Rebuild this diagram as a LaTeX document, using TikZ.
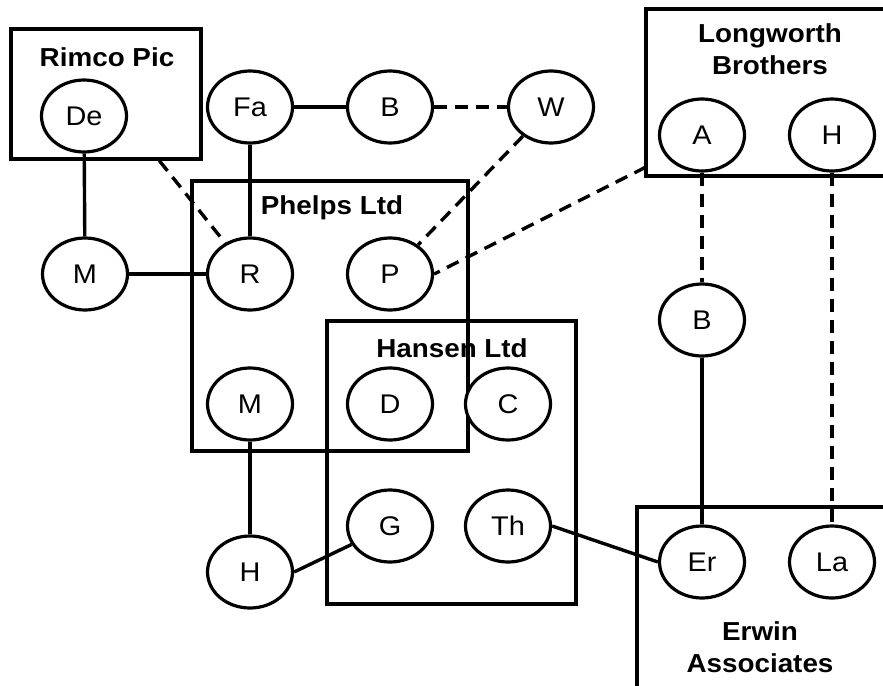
\documentclass[tikz,border=0pt]{standalone}
\usepackage{fontspec}
\setmainfont{Liberation Sans}[FakeStretch=1.07]
\usetikzlibrary{shapes.geometric}
\begin{document}
\begin{tikzpicture}[x=1pt,y=-1pt,
  ent/.style={draw,ellipse,line width=3.2pt,fill=white,minimum width=85pt,minimum height=72pt,inner sep=0pt,font=\fontsize{27}{30}\selectfont},
  orgbox/.style={draw,rectangle,line width=3.4pt,inner sep=0pt},
  orglabel/.style={font=\fontsize{26}{32}\selectfont\bfseries,align=center,inner sep=0pt},
  link/.style={line width=3.4pt},
  dlink/.style={line width=3.4pt,dash pattern=on 13pt off 8pt}]
\useasboundingbox[fill=white] (0,0) rectangle (883,685);
% organisation labels
\node[orglabel] (lrimco) at (107,57) {Rimco Pic};
\node[orglabel] (llw) at (770,49) {Longworth\\Brothers};
\node[orglabel] (lphelps) at (332,208) {Phelps Ltd};
\node[orglabel] (lhansen) at (452,348) {Hansen Ltd};
\node[orglabel] (lerwin) at (760,647) {Erwin\\Associates};
% organisation boxes
\node[orgbox,minimum width=190pt,minimum height=130pt] (rimco) at (106,94) {};
\node[orgbox,minimum width=249pt,minimum height=167pt] (lw) at (770.5,92.5) {};
\node[orgbox,minimum width=276pt,minimum height=270pt] (phelps) at (330,316) {};
\node[orgbox,minimum width=249pt,minimum height=283pt] (hansen) at (451.5,462.5) {};
\node[orgbox,minimum width=258pt,minimum height=193pt] (erwin) at (766,603.5) {};
% people
\node[ent] (De) at (84,116) {De};
\node[ent] (Fa) at (250,107) {Fa};
\node[ent] (Bt) at (390,107) {B};
\node[ent] (W) at (551,107) {W};
\node[ent] (A) at (702,135) {A};
\node[ent] (Ht) at (832,135) {H};
\node[ent] (Ml) at (85,274) {M};
\node[ent] (R) at (250,274) {R};
\node[ent] (P) at (390,274) {P};
\node[ent] (Br) at (702,320) {B};
\node[ent] (Mm) at (250,404) {M};
\node[ent] (D) at (390,404) {D};
\node[ent] (C) at (508,404) {C};
\node[ent] (G) at (390,526) {G};
\node[ent] (Th) at (508,526) {Th};
\node[ent] (Hb) at (250,572) {H};
\node[ent] (Er) at (702,562) {Er};
\node[ent] (La) at (832,562) {La};
\coordinate (lwpt) at (646,167);
% connectors
\draw[link] (De) -- (Ml);
\draw[link] (Ml) -- (R);
\draw[link] (Fa) -- (R);
\draw[link] (Fa) -- (Bt);
\draw[dlink] (Bt) -- (W);
\draw[dlink] (W) -- (P);
\draw[dlink] (rimco) -- (R);
\draw[dlink] (lwpt) -- (P.east);
\draw[dlink] (A) -- (Br);
\draw[dlink] (Ht) -- (La);
\draw[link] (Br) -- (Er);
\draw[link] (Mm) -- (Hb);
\draw[link] (Hb.east) -- (G);
\draw[link] (Th.east) -- (Er.west);
\end{tikzpicture}
\end{document}
